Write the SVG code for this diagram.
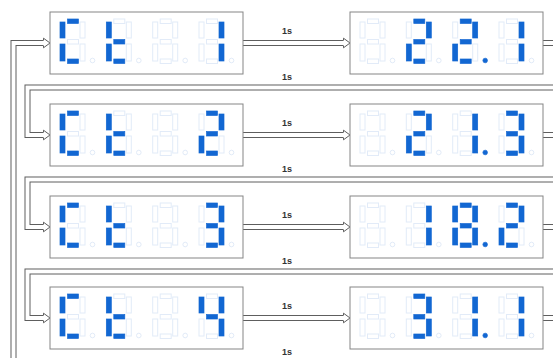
<svg xmlns="http://www.w3.org/2000/svg" xmlns:xlink="http://www.w3.org/1999/xlink" width="553" height="358" viewBox="0 0 553 358">
<style>
.box{fill:#fff;stroke:#858585;stroke-width:1}
.off{fill:#fff;stroke:#e2ebf8;stroke-width:1}
.on{fill:#1267d2;stroke:#1267d2;stroke-width:0.6}
.wo{fill:none;stroke:#5e5e5e;stroke-width:6;stroke-linejoin:miter}
.wi{fill:none;stroke:#fff;stroke-width:4;stroke-linejoin:miter}
.hd{fill:#fff;stroke:#5e5e5e;stroke-width:1;stroke-linejoin:miter}
.lb{font-family:"Liberation Sans",Arial,sans-serif;font-size:9px;font-weight:bold;fill:#333;text-anchor:middle}
</style>
<defs>
<rect id="a" x="7.5" y="0" width="11" height="4.5"/>
<rect id="b" x="20" y="3" width="5" height="16"/>
<rect id="c" x="20" y="25" width="5" height="17"/>
<rect id="d" x="7.5" y="40" width="11" height="4.5"/>
<rect id="e" x="0" y="25" width="5" height="17"/>
<rect id="f" x="0" y="3" width="5" height="16"/>
<rect id="g" x="7.5" y="20.5" width="11" height="4.5"/>
<circle id="p" cx="32.5" cy="41.5" r="2.3"/>
<g id="d8"><use href="#a"/><use href="#b"/><use href="#c"/><use href="#d"/><use href="#e"/><use href="#f"/><use href="#g"/><use href="#p"/></g>
<g id="dC"><use href="#a"/><use href="#f"/><use href="#e"/><use href="#d"/></g>
<g id="dT"><use href="#f"/><use href="#e"/><use href="#g"/><use href="#d"/></g>
<g id="d1"><use href="#b"/><use href="#c"/></g>
<g id="d2"><use href="#a"/><use href="#b"/><use href="#g"/><use href="#e"/><use href="#d"/></g>
<g id="d3"><use href="#a"/><use href="#b"/><use href="#g"/><use href="#c"/><use href="#d"/></g>
<g id="d4"><use href="#f"/><use href="#g"/><use href="#b"/><use href="#c"/></g>
<g id="d88"><use href="#a"/><use href="#b"/><use href="#c"/><use href="#d"/><use href="#e"/><use href="#f"/><use href="#g"/></g>
<g id="blank4">
<use href="#d8" x="10" y="7"/><use href="#d8" x="56.3" y="7"/><use href="#d8" x="102.7" y="7"/><use href="#d8" x="149" y="7"/>
</g>
</defs>

<g id="connectors">
<g class="wo">
<path d="M243,43 H343.5"/><path d="M243,135 H343.5"/><path d="M243,227 H343.5"/><path d="M243,318 H343.5"/>
<path d="M543,43 H562 V87.5 H27.5 V135 H43.5"/>
<path d="M543,135 H562 V179.5 H27.5 V227 H43.5"/>
<path d="M543,227 H562 V271.5 H27.5 V318 H43.5"/>
<path d="M543,318 H562 V362.5 H13.5 V43 H43.5"/>
</g>
<g class="wi">
<path d="M243,43 H344"/><path d="M243,135 H344"/><path d="M243,227 H344"/><path d="M243,318 H344"/>
<path d="M543,43 H562 V87.5 H27.5 V135 H44"/>
<path d="M543,135 H562 V179.5 H27.5 V227 H44"/>
<path d="M543,227 H562 V271.5 H27.5 V318 H44"/>
<path d="M543,318 H562 V362.5 H13.5 V43 H44"/>
</g>
<g class="hd">
<polyline points="343.5,40.5 343.5,38.2 350,43 343.5,47.8 343.5,45.5"/>
<polyline points="343.5,132.5 343.5,130.2 350,135 343.5,139.8 343.5,137.5"/>
<polyline points="343.5,224.5 343.5,222.2 350,227 343.5,231.8 343.5,229.5"/>
<polyline points="343.5,315.5 343.5,313.2 350,318 343.5,322.8 343.5,320.5"/>
<polyline points="43.5,40.5 43.5,38.2 50,43 43.5,47.8 43.5,45.5"/>
<polyline points="43.5,132.5 43.5,130.2 50,135 43.5,139.8 43.5,137.5"/>
<polyline points="43.5,224.5 43.5,222.2 50,227 43.5,231.8 43.5,229.5"/>
<polyline points="43.5,315.5 43.5,313.2 50,318 43.5,322.8 43.5,320.5"/>
</g>
<text class="lb" x="287" y="34">1s</text>
<text class="lb" x="287" y="126">1s</text>
<text class="lb" x="287" y="218">1s</text>
<text class="lb" x="287" y="309">1s</text>
<text class="lb" x="287" y="80">1s</text>
<text class="lb" x="287" y="172">1s</text>
<text class="lb" x="287" y="264">1s</text>
<text class="lb" x="287" y="355">1s</text>
</g>

<g id="ct1">
<rect class="box" x="50" y="12" width="193" height="62"/>
<use class="off" href="#blank4" x="50" y="12"/>
<use class="on" href="#dC" x="60" y="19"/><use class="on" href="#dT" x="106.3" y="19"/><use class="on" href="#d1" x="199" y="19"/>
</g>
<g id="val1">
<rect class="box" x="350" y="12" width="193" height="62"/>
<use class="off" href="#blank4" x="350" y="12"/>
<use class="on" href="#d2" x="406.3" y="19"/><use class="on" href="#d2" x="452.7" y="19"/><use class="on" href="#p" x="452.7" y="19"/><use class="on" href="#d1" x="499" y="19"/>
</g>

<g id="ct2">
<rect class="box" x="50" y="104" width="193" height="62"/>
<use class="off" href="#blank4" x="50" y="104"/>
<use class="on" href="#dC" x="60" y="111"/><use class="on" href="#dT" x="106.3" y="111"/><use class="on" href="#d2" x="199" y="111"/>
</g>
<g id="val2">
<rect class="box" x="350" y="104" width="193" height="62"/>
<use class="off" href="#blank4" x="350" y="104"/>
<use class="on" href="#d2" x="406.3" y="111"/><use class="on" href="#d1" x="452.7" y="111"/><use class="on" href="#p" x="452.7" y="111"/><use class="on" href="#d3" x="499" y="111"/>
</g>

<g id="ct3">
<rect class="box" x="50" y="196" width="193" height="62"/>
<use class="off" href="#blank4" x="50" y="196"/>
<use class="on" href="#dC" x="60" y="203"/><use class="on" href="#dT" x="106.3" y="203"/><use class="on" href="#d3" x="199" y="203"/>
</g>
<g id="val3">
<rect class="box" x="350" y="196" width="193" height="62"/>
<use class="off" href="#blank4" x="350" y="196"/>
<use class="on" href="#d1" x="406.3" y="203"/><use class="on" href="#d88" x="452.7" y="203"/><use class="on" href="#p" x="452.7" y="203"/><use class="on" href="#d2" x="499" y="203"/>
</g>

<g id="ct4">
<rect class="box" x="50" y="287" width="193" height="62"/>
<use class="off" href="#blank4" x="50" y="287"/>
<use class="on" href="#dC" x="60" y="294"/><use class="on" href="#dT" x="106.3" y="294"/><use class="on" href="#d4" x="199" y="294"/>
</g>
<g id="val4">
<rect class="box" x="350" y="287" width="193" height="62"/>
<use class="off" href="#blank4" x="350" y="287"/>
<use class="on" href="#d3" x="406.3" y="294"/><use class="on" href="#d1" x="452.7" y="294"/><use class="on" href="#p" x="452.7" y="294"/><use class="on" href="#d1" x="499" y="294"/>
</g>
</svg>
